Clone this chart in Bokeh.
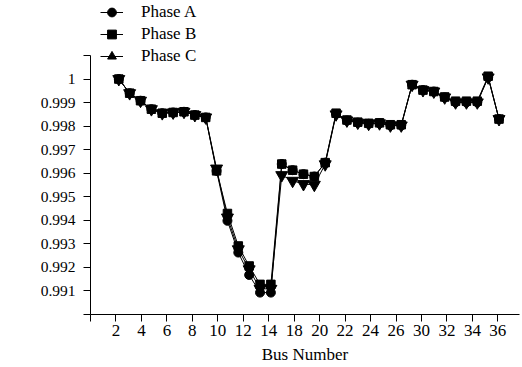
import math
from bokeh.plotting import figure
from bokeh.models import Range1d, FixedTicker, Legend, LegendItem, Label
from bokeh.embed import file_html
from bokeh.resources import INLINE

# ---- data ----
bus_pos = [1, 2, 3, 4, 5, 6, 7, 8, 9, 10, 11, 12, 13, 14, 15, 16, 17, 18,
           19, 20, 21, 22, 23, 24, 25, 26, 27, 28, 29, 30, 31, 32, 33, 34, 35, 36]

phase_a = [1.0000, 0.9994, 0.99908, 0.99872, 0.99855, 0.99858, 0.99861, 0.99847, 0.99837,
           0.9961, 0.99398, 0.99263, 0.99168, 0.99093, 0.99093,
           0.99639, 0.99613, 0.99596, 0.99586, 0.99645, 0.99852,
           0.99824, 0.99815, 0.9981, 0.99812, 0.99803, 0.99803,
           0.99976, 0.99953, 0.99947, 0.99922, 0.99901, 0.99901, 0.99901, 1.00007, 0.9983]

phase_b = [1.0000, 0.9994, 0.99908, 0.99872, 0.99855, 0.99858, 0.99861, 0.99847, 0.99837,
           0.9961, 0.99429, 0.99291, 0.99206, 0.99128, 0.99128,
           0.99639, 0.99613, 0.99596, 0.99586, 0.99645, 0.99855,
           0.99826, 0.99817, 0.99812, 0.99814, 0.99806, 0.99806,
           0.99976, 0.99953, 0.99947, 0.99924, 0.99906, 0.99906, 0.99906, 1.00012, 0.9983]

phase_c = [1.0000, 0.9994, 0.99908, 0.99872, 0.99855, 0.99858, 0.99861, 0.99847, 0.99837,
           0.9962, 0.99412, 0.99277, 0.99192, 0.99109, 0.99109,
           0.99592, 0.99568, 0.99554, 0.99551, 0.99638, 0.9985,
           0.99824, 0.99815, 0.9981, 0.99812, 0.99803, 0.99803,
           0.99976, 0.99953, 0.99947, 0.99922, 0.99901, 0.99901, 0.99901, 1.00007, 0.9983]

x_tick_labels = ["", "2", "4", "6", "8", "10", "12", "14", "18", "20", "22",
                 "24", "26", "30", "32", "34", "36"]
y_tick_values = [0.990, 0.991, 0.992, 0.993, 0.994, 0.995, 0.996, 0.997,
                 0.998, 0.999, 1.000, 1.001]
y_tick_labels = ["", "0.991", "0.992", "0.993", "0.994", "0.995", "0.996",
                 "0.997", "0.998", "0.999", "1", ""]

series_names = ["Phase A", "Phase B", "Phase C"]

# ---- layout constants ----
FONT = "Liberation Serif"
X0 = -1.606       # axis origin in index units
XSTEP = 2.3437    # spacing of tick marks in index units
x_ticks = [X0 + j * XSTEP for j in range(len(x_tick_labels))]
Y_LO, Y_AXIS_TOP, Y_FRAME_TOP = 0.990, 1.001, 1.003336

p = figure(width=522, height=367, output_backend="svg", toolbar_location=None,
           x_range=Range1d(X0, 37.886), y_range=Range1d(Y_LO, Y_FRAME_TOP),
           min_border_left=90, min_border_right=3, min_border_top=0,
           min_border_bottom=53)
p.outline_line_color = None
p.grid.visible = False
p.background_fill_color = "white"
p.border_fill_color = "white"

for ax in (p.xaxis[0], p.yaxis[0]):
    ax.axis_line_color = "black"
    ax.axis_line_width = 1
    ax.major_tick_line_color = "black"
    ax.major_tick_in = 0
    ax.major_tick_out = 7
    ax.minor_tick_line_color = None
    ax.major_label_text_font = FONT
    ax.major_label_text_color = "black"
    ax.axis_label_text_font = FONT
    ax.axis_label_text_font_style = "normal"
    ax.axis_label_text_color = "black"

p.xaxis.ticker = FixedTicker(ticks=x_ticks)
p.xaxis.major_label_overrides = dict(zip(x_ticks, x_tick_labels))
p.xaxis.major_label_text_font_size = "17px"
p.xaxis.major_label_standoff = 3
p.xaxis.axis_label = "Bus Number"
p.xaxis.axis_label_text_font_size = "17px"
p.xaxis.axis_label_standoff = 6

p.yaxis.bounds = (Y_LO, Y_AXIS_TOP)
p.yaxis.ticker = FixedTicker(ticks=y_tick_values)
p.yaxis.major_label_overrides = dict(zip(y_tick_values, y_tick_labels))
p.yaxis.major_label_text_font_size = "15.5px"
p.yaxis.major_label_standoff = 8

# ---- series ----
la = p.line(bus_pos, phase_a, line_color="black", line_width=1)
ma = p.scatter(bus_pos, phase_a, marker="circle", size=9, color="black")
lb = p.line(bus_pos, phase_b, line_color="black", line_width=1)
mb = p.scatter(bus_pos, phase_b, marker="square", size=8.5, color="black")
lc = p.line(bus_pos, phase_c, line_color="black", line_width=1)
mc = p.scatter(bus_pos, phase_c, marker="inverted_triangle", size=12, color="black")
# legend symbol for phase C is an upright triangle (NaN point: never drawn in the plot)
leg_c = p.scatter(x=[math.nan], y=[math.nan], marker="triangle", color="black")

legend = Legend(items=[
    LegendItem(label=series_names[0], renderers=[la, ma]),
    LegendItem(label=series_names[1], renderers=[lb, mb]),
    LegendItem(label=series_names[2], renderers=[lc, leg_c]),
], location=(10, 247), glyph_width=23, glyph_height=22, label_height=22,
    spacing=0, padding=0, margin=0, label_standoff=18,
    border_line_color=None, background_fill_alpha=0,
    label_text_font=FONT, label_text_font_size="17px", label_text_color="black")
p.add_layout(legend)

p.add_layout(Label(x=-78, y=156, x_units="screen", y_units="screen",
                   text="V[p.u.]", angle=math.pi / 2, text_align="center",
                   text_baseline="middle", text_font=FONT, text_font_size="15px",
                   text_color="black"))

open("out.html", "w").write(file_html(p, INLINE))
